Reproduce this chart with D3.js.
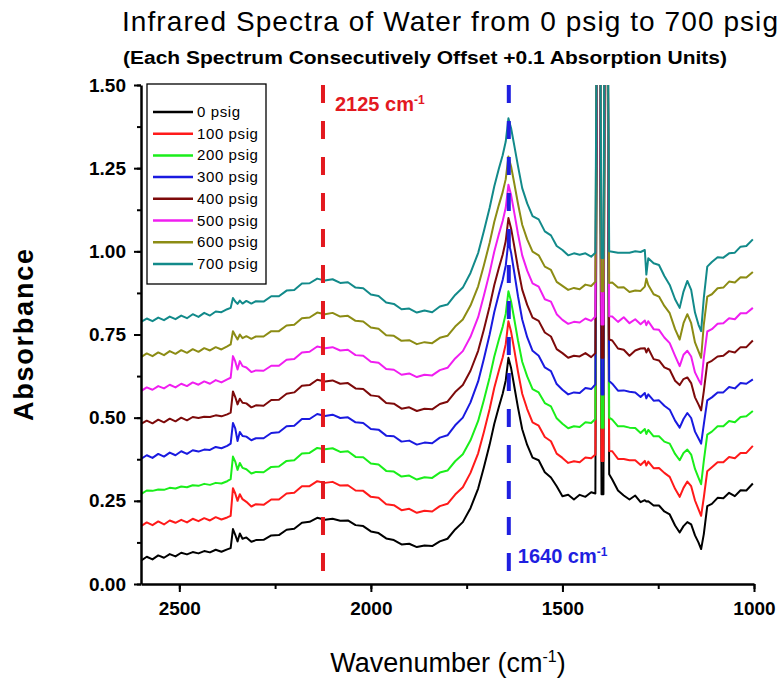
<!DOCTYPE html>
<meta charset="utf-8">
<script src="https://d3js.org/d3.v7.min.js"></script>
<style>
  body { margin: 0; background: #fff; }
  text { font-family: "Liberation Sans", Arial, sans-serif; }
</style>
<body>
<div id="graph"></div>
<script>
  // wavenumber grid (cm-1) shared by every spectrum
  var wavenumbers = [
    2600, 2585, 2570, 2555, 2540, 2525, 2510, 2495, 2480, 2465, 2450, 2435, 2420, 2405, 2390, 2375,
    2366, 2360, 2354, 2348, 2342, 2335, 2325, 2312,
    2300, 2280, 2260, 2240, 2220, 2200, 2180, 2160, 2140, 2120, 2100, 2080, 2060, 2040, 2020, 2000, 1980, 1960,
    1940, 1920, 1900, 1880, 1860, 1840, 1820, 1800, 1780, 1760,
    1740, 1720, 1705, 1690, 1678, 1666, 1656, 1648, 1641, 1634, 1626, 1616, 1605, 1592, 1578, 1562, 1546, 1530,
    1515, 1500, 1485, 1470, 1455, 1440, 1425, 1414,
    1409, 1403, 1398, 1393, 1389, 1383, 1378,
    1370, 1355, 1340, 1325, 1310, 1296, 1285, 1281, 1276, 1262, 1248, 1234, 1220, 1206, 1194, 1184, 1174, 1164, 1154, 1145, 1138, 1131, 1122, 1110, 1095, 1080, 1065, 1050, 1035, 1020, 1003
  ];

  // absorbance as plotted (offsets already included)
  var psig0 = [
    0.070, 0.082, 0.074, 0.086, 0.079, 0.090, 0.083, 0.094, 0.089, 0.096, 0.092, 0.099, 0.095, 0.103, 0.097, 0.104,
    0.108, 0.165, 0.148, 0.128, 0.152, 0.136, 0.140, 0.127,
    0.132, 0.133, 0.146, 0.147, 0.163, 0.166, 0.184, 0.187, 0.199, 0.193, 0.196, 0.190, 0.191, 0.177, 0.174, 0.158, 0.153, 0.137,
    0.132, 0.119, 0.121, 0.111, 0.116, 0.114, 0.128, 0.136, 0.164, 0.186,
    0.228, 0.287, 0.351, 0.419, 0.481, 0.532, 0.572, 0.612, 0.680, 0.649, 0.596, 0.530, 0.465, 0.418, 0.380, 0.372, 0.336, 0.320,
    0.294, 0.264, 0.268, 0.254, 0.268, 0.262, 0.276, 0.272,
    2.0, 2.0, 0.27, 0.27, 2.0, 2.0, 0.330,
    0.314, 0.281, 0.266, 0.254, 0.266, 0.246, 0.252, 0.248, 0.249, 0.236, 0.236, 0.218, 0.209, 0.176, 0.155, 0.174, 0.186, 0.179, 0.146, 0.125, 0.105, 0.150, 0.234, 0.241, 0.259, 0.258, 0.274, 0.264, 0.282, 0.281, 0.302
  ];
  var psig100 = [
    0.174, 0.185, 0.177, 0.188, 0.179, 0.191, 0.184, 0.193, 0.185, 0.196, 0.189, 0.198, 0.191, 0.201, 0.194, 0.200,
    0.205, 0.288, 0.272, 0.250, 0.270, 0.255, 0.247, 0.233,
    0.240, 0.238, 0.254, 0.254, 0.272, 0.274, 0.294, 0.294, 0.309, 0.304, 0.307, 0.296, 0.297, 0.281, 0.280, 0.262, 0.259, 0.240,
    0.237, 0.222, 0.226, 0.214, 0.220, 0.218, 0.234, 0.241, 0.269, 0.291,
    0.334, 0.393, 0.457, 0.526, 0.589, 0.641, 0.681, 0.721, 0.790, 0.758, 0.706, 0.638, 0.572, 0.526, 0.486, 0.476, 0.442, 0.429,
    0.392, 0.379, 0.364, 0.369, 0.366, 0.380, 0.378, 0.389,
    2.0, 2.0, 0.37, 0.37, 2.0, 2.0, 0.400,
    0.399, 0.376, 0.376, 0.372, 0.372, 0.358, 0.370, 0.356, 0.368, 0.348, 0.349, 0.334, 0.322, 0.286, 0.262, 0.289, 0.308, 0.294, 0.251, 0.225, 0.205, 0.260, 0.339, 0.351, 0.366, 0.366, 0.382, 0.378, 0.394, 0.394, 0.415
  ];
  var psig200 = [
    0.270, 0.281, 0.280, 0.284, 0.283, 0.289, 0.287, 0.293, 0.291, 0.297, 0.295, 0.301, 0.298, 0.304, 0.302, 0.309,
    0.315, 0.383, 0.368, 0.343, 0.364, 0.349, 0.345, 0.332,
    0.337, 0.336, 0.352, 0.353, 0.370, 0.372, 0.392, 0.394, 0.409, 0.405, 0.408, 0.397, 0.399, 0.382, 0.381, 0.362, 0.359, 0.340,
    0.338, 0.323, 0.326, 0.314, 0.321, 0.319, 0.335, 0.341, 0.369, 0.390,
    0.432, 0.490, 0.553, 0.621, 0.683, 0.734, 0.773, 0.812, 0.880, 0.849, 0.798, 0.732, 0.668, 0.624, 0.586, 0.576, 0.544, 0.534,
    0.498, 0.482, 0.468, 0.474, 0.472, 0.486, 0.484, 0.496,
    2.0, 2.0, 0.47, 0.47, 2.0, 2.0, 0.500,
    0.494, 0.474, 0.474, 0.470, 0.469, 0.454, 0.466, 0.451, 0.463, 0.444, 0.444, 0.428, 0.422, 0.391, 0.372, 0.394, 0.404, 0.389, 0.346, 0.320, 0.300, 0.370, 0.449, 0.458, 0.474, 0.474, 0.490, 0.486, 0.502, 0.504, 0.520
  ];
  var psig300 = [
    0.376, 0.387, 0.379, 0.391, 0.383, 0.395, 0.387, 0.399, 0.391, 0.402, 0.398, 0.404, 0.403, 0.412, 0.408, 0.415,
    0.422, 0.484, 0.468, 0.430, 0.457, 0.445, 0.443, 0.432,
    0.438, 0.438, 0.454, 0.456, 0.474, 0.476, 0.496, 0.496, 0.511, 0.505, 0.509, 0.499, 0.501, 0.486, 0.484, 0.466, 0.464, 0.446,
    0.444, 0.428, 0.431, 0.419, 0.425, 0.423, 0.440, 0.447, 0.477, 0.500,
    0.546, 0.609, 0.677, 0.750, 0.817, 0.872, 0.914, 0.957, 1.030, 0.996, 0.938, 0.865, 0.795, 0.742, 0.701, 0.686, 0.651, 0.640,
    0.601, 0.584, 0.570, 0.576, 0.574, 0.589, 0.586, 0.600,
    2.0, 2.0, 0.57, 0.57, 2.0, 2.0, 0.610,
    0.602, 0.581, 0.582, 0.578, 0.576, 0.562, 0.574, 0.558, 0.570, 0.551, 0.552, 0.536, 0.524, 0.491, 0.470, 0.496, 0.514, 0.499, 0.458, 0.438, 0.422, 0.480, 0.552, 0.561, 0.576, 0.576, 0.592, 0.588, 0.604, 0.602, 0.615
  ];
  var psig400 = [
    0.481, 0.491, 0.483, 0.494, 0.486, 0.497, 0.489, 0.500, 0.492, 0.502, 0.499, 0.503, 0.502, 0.507, 0.504, 0.510,
    0.515, 0.579, 0.562, 0.540, 0.557, 0.545, 0.543, 0.531,
    0.537, 0.536, 0.553, 0.554, 0.572, 0.576, 0.596, 0.598, 0.614, 0.609, 0.612, 0.602, 0.604, 0.588, 0.586, 0.567, 0.564, 0.544,
    0.542, 0.527, 0.531, 0.520, 0.527, 0.525, 0.541, 0.548, 0.577, 0.598,
    0.641, 0.701, 0.765, 0.835, 0.898, 0.950, 0.990, 1.031, 1.100, 1.069, 1.017, 0.950, 0.885, 0.839, 0.801, 0.791, 0.756, 0.744,
    0.706, 0.694, 0.680, 0.686, 0.684, 0.694, 0.682, 0.694,
    2.0, 2.0, 0.68, 0.68, 2.0, 2.0, 0.735,
    0.732, 0.708, 0.704, 0.686, 0.702, 0.708, 0.709, 0.696, 0.708, 0.676, 0.672, 0.651, 0.644, 0.611, 0.598, 0.616, 0.621, 0.604, 0.561, 0.540, 0.522, 0.580, 0.664, 0.671, 0.684, 0.686, 0.700, 0.696, 0.712, 0.712, 0.732
  ];
  var psig500 = [
    0.580, 0.591, 0.584, 0.595, 0.588, 0.599, 0.591, 0.602, 0.595, 0.606, 0.599, 0.609, 0.602, 0.613, 0.606, 0.615,
    0.620, 0.685, 0.669, 0.645, 0.670, 0.655, 0.651, 0.637,
    0.642, 0.641, 0.656, 0.656, 0.674, 0.676, 0.696, 0.698, 0.714, 0.709, 0.712, 0.702, 0.704, 0.688, 0.686, 0.668, 0.665, 0.646,
    0.644, 0.629, 0.633, 0.622, 0.629, 0.627, 0.643, 0.650, 0.678, 0.700,
    0.743, 0.802, 0.867, 0.936, 0.999, 1.051, 1.091, 1.131, 1.200, 1.169, 1.118, 1.052, 0.988, 0.942, 0.904, 0.894, 0.856, 0.849,
    0.811, 0.794, 0.782, 0.788, 0.786, 0.798, 0.791, 0.804,
    2.0, 2.0, 0.78, 0.78, 2.0, 2.0, 0.805,
    0.804, 0.788, 0.802, 0.784, 0.796, 0.781, 0.792, 0.778, 0.790, 0.766, 0.764, 0.741, 0.724, 0.686, 0.655, 0.689, 0.701, 0.684, 0.636, 0.615, 0.600, 0.680, 0.759, 0.766, 0.782, 0.784, 0.799, 0.796, 0.814, 0.814, 0.830
  ];
  var psig600 = [
    0.682, 0.693, 0.685, 0.696, 0.688, 0.700, 0.692, 0.703, 0.695, 0.706, 0.698, 0.709, 0.702, 0.712, 0.705, 0.714,
    0.720, 0.760, 0.747, 0.735, 0.750, 0.739, 0.745, 0.737,
    0.744, 0.744, 0.760, 0.760, 0.777, 0.779, 0.799, 0.801, 0.816, 0.811, 0.815, 0.804, 0.806, 0.791, 0.789, 0.771, 0.767, 0.748,
    0.746, 0.731, 0.733, 0.721, 0.727, 0.724, 0.740, 0.746, 0.774, 0.795,
    0.837, 0.895, 0.958, 1.026, 1.088, 1.139, 1.178, 1.217, 1.285, 1.255, 1.206, 1.143, 1.080, 1.036, 0.999, 0.988, 0.954, 0.944,
    0.908, 0.896, 0.884, 0.890, 0.886, 0.900, 0.896, 0.909,
    2.0, 2.0, 0.88, 0.88, 2.0, 2.0, 0.905,
    0.906, 0.891, 0.892, 0.878, 0.882, 0.881, 0.894, 0.918, 0.899, 0.871, 0.864, 0.836, 0.814, 0.766, 0.735, 0.784, 0.811, 0.784, 0.726, 0.700, 0.680, 0.780, 0.864, 0.871, 0.889, 0.891, 0.909, 0.906, 0.922, 0.921, 0.938
  ];
  var psig700 = [
    0.788, 0.798, 0.790, 0.801, 0.793, 0.804, 0.796, 0.807, 0.799, 0.811, 0.803, 0.815, 0.807, 0.819, 0.817, 0.826,
    0.830, 0.860, 0.849, 0.842, 0.852, 0.843, 0.851, 0.843,
    0.850, 0.849, 0.865, 0.865, 0.882, 0.884, 0.903, 0.904, 0.918, 0.912, 0.916, 0.905, 0.907, 0.891, 0.889, 0.870, 0.866, 0.846,
    0.842, 0.826, 0.828, 0.816, 0.822, 0.817, 0.834, 0.840, 0.869, 0.891,
    0.935, 0.995, 1.061, 1.131, 1.195, 1.248, 1.289, 1.330, 1.400, 1.370, 1.320, 1.256, 1.190, 1.144, 1.106, 1.096, 1.060, 1.048,
    1.016, 1.004, 0.988, 0.994, 0.990, 0.994, 0.984, 0.996,
    2.0, 2.0, 0.98, 0.98, 2.0, 2.0, 1.000,
    0.999, 0.996, 0.996, 0.996, 1.000, 0.998, 1.004, 0.930, 0.979, 0.964, 0.959, 0.926, 0.899, 0.856, 0.830, 0.879, 0.911, 0.884, 0.816, 0.780, 0.760, 0.860, 0.954, 0.968, 0.982, 0.981, 0.994, 0.996, 1.014, 1.016, 1.036
  ];

  var seriesNames = ["0 psig", "100 psig", "200 psig", "300 psig", "400 psig", "500 psig", "600 psig", "700 psig"];
  var seriesValues = [psig0, psig100, psig200, psig300, psig400, psig500, psig600, psig700];
  var seriesColors = ["#000000", "#ff1a1a", "#1aee1a", "#1a1ae0", "#7d0a0a", "#f01ef0", "#8c8c14", "#128a8a"];

  var xTicks = [2500, 2000, 1500, 1000];
  var xMinorTicks = [2500, 2250, 2000, 1750, 1500, 1250, 1000];
  var yTicks = [0, 0.25, 0.5, 0.75, 1.0, 1.25, 1.5];
  var yMinorTicks = [0, 0.125, 0.25, 0.375, 0.5, 0.625, 0.75, 0.875, 1.0, 1.125, 1.25, 1.375, 1.5];

  // marker lines: wavenumber, label
  var markerWavenumbers = [2125, 1640];
  var markerLabels = ["2125 cm", "1640 cm"];

  var W = 782, H = 678;
  var margin = { top: 85, right: 28, bottom: 94, left: 141 };

  var svg = d3.select("#graph").append("svg")
    .attr("width", W).attr("height", H);

  var x = d3.scaleLinear().domain([2600, 1000]).range([margin.left, W - margin.right]);
  var y = d3.scaleLinear().domain([0, 1.5]).range([H - margin.bottom, margin.top]);

  // titles
  svg.append("text")
    .attr("x", 450).attr("y", 31)
    .attr("text-anchor", "middle")
    .attr("textLength", 656)
    .style("font-size", "28px")
    .text("Infrared Spectra of Water from 0 psig to 700 psig");

  svg.append("text")
    .attr("x", 425).attr("y", 64)
    .attr("text-anchor", "middle")
    .attr("textLength", 604)
    .attr("lengthAdjust", "spacingAndGlyphs")
    .style("font-size", "18px")
    .style("font-weight", "bold")
    .text("(Each Spectrum Consecutively Offset +0.1 Absorption Units)");

  // clip for spectra
  svg.append("clipPath").attr("id", "plotclip")
    .append("rect")
    .attr("x", margin.left).attr("y", margin.top)
    .attr("width", W - margin.right - margin.left)
    .attr("height", H - margin.bottom - margin.top);

  var line = d3.line()
    .x(function (d, i) { return x(wavenumbers[i]); })
    .y(function (d) { return y(d); });

  svg.append("g").attr("clip-path", "url(#plotclip)")
    .selectAll("path")
    .data(seriesValues)
    .enter().append("path")
    .attr("d", line)
    .attr("fill", "none")
    .attr("stroke", function (d, i) { return seriesColors[i]; })
    .attr("stroke-width", 2)
    .attr("stroke-linejoin", "round");

  // axes: minor ticks first, then majors with labels
  svg.append("g")
    .attr("transform", "translate(0," + (H - margin.bottom) + ")")
    .call(d3.axisBottom(x).tickValues(xMinorTicks).tickSize(5).tickSizeOuter(0).tickFormat(""))
    .call(function (g) { g.select(".domain").remove(); })
    .selectAll("line").attr("stroke-width", 2);

  svg.append("g")
    .attr("class", "xaxis")
    .attr("transform", "translate(0," + (H - margin.bottom) + ")")
    .call(d3.axisBottom(x).tickValues(xTicks).tickSize(8).tickSizeOuter(0).tickPadding(10)
      .tickFormat(d3.format("d")));

  svg.append("g")
    .attr("transform", "translate(" + margin.left + ",0)")
    .call(d3.axisLeft(y).tickValues(yMinorTicks).tickSize(4).tickSizeOuter(0).tickFormat(""))
    .call(function (g) { g.select(".domain").remove(); })
    .selectAll("line").attr("stroke-width", 2);

  svg.append("g")
    .attr("class", "yaxis")
    .attr("transform", "translate(" + margin.left + ",0)")
    .call(d3.axisLeft(y).tickValues(yTicks).tickSize(7).tickSizeOuter(0).tickPadding(8)
      .tickFormat(d3.format(".2f")));

  svg.selectAll(".xaxis .domain, .yaxis .domain").attr("stroke-width", 2.5);
  svg.selectAll(".xaxis .tick line, .yaxis .tick line").attr("stroke-width", 2);
  svg.selectAll(".xaxis text, .yaxis text")
    .style("font-family", "'Liberation Sans', Arial, sans-serif")
    .style("font-size", "19px")
    .style("font-weight", "bold")
    .attr("fill", "#000");

  // dashed marker lines
  var markerColors = ["#e3191f", "#1f1fe0"];
  svg.selectAll(".marker")
    .data(markerWavenumbers)
    .enter().append("line")
    .attr("class", "marker")
    .attr("x1", function (d) { return x(d); })
    .attr("x2", function (d) { return x(d); })
    .attr("y1", y(1.5))
    .attr("y2", y(0))
    .attr("stroke", function (d, i) { return markerColors[i]; })
    .attr("stroke-width", 4)
    .attr("stroke-dasharray", "18,18");

  var markerLabelPos = [[x(2125) + 12, 111], [x(1640) + 9, 563]];
  markerWavenumbers.forEach(function (d, i) {
    var t = svg.append("text")
      .attr("x", markerLabelPos[i][0]).attr("y", markerLabelPos[i][1])
      .attr("fill", markerColors[i])
      .style("font-size", "20px")
      .style("font-weight", "bold")
      .text(markerLabels[i]);
    t.append("tspan").attr("dy", -7).style("font-size", "12px").text("-1");
  });

  // axis titles
  svg.append("text")
    .attr("transform", "translate(33,335) rotate(-90)")
    .attr("text-anchor", "middle")
    .attr("textLength", 172)
    .style("font-size", "27px")
    .style("font-weight", "bold")
    .text("Absorbance");

  var xt = svg.append("text")
    .attr("x", 448).attr("y", 672)
    .attr("text-anchor", "middle")
    .style("font-size", "27px")
    .text("Wavenumber (cm");
  xt.append("tspan").attr("dy", -10).style("font-size", "16px").text("-1");
  xt.append("tspan").attr("dy", 10).text(")");

  // legend
  var legend = svg.append("g").attr("transform", "translate(147,84)");
  legend.append("rect")
    .attr("width", 119).attr("height", 200)
    .attr("fill", "#fff").attr("stroke", "#000").attr("stroke-width", 1.3);
  var rows = legend.selectAll(".row")
    .data(seriesNames)
    .enter().append("g")
    .attr("transform", function (d, i) { return "translate(0," + (28 + i * 21.7) + ")"; });
  rows.append("line")
    .attr("x1", 6).attr("x2", 46)
    .attr("stroke", function (d, i) { return seriesColors[i]; })
    .attr("stroke-width", 2.5);
  rows.append("text")
    .attr("x", 50).attr("y", 5)
    .style("font-size", "15px")
    .style("letter-spacing", "0.6px")
    .text(function (d) { return d; });
</script>
</body>
